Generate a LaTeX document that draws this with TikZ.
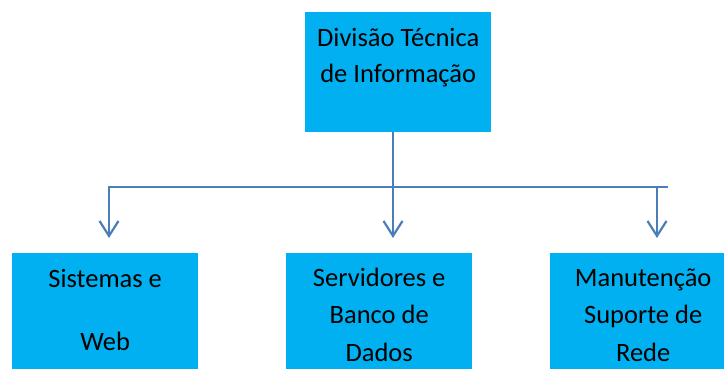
\documentclass[tikz,border=0pt]{standalone}
\usepackage{fontspec}
\setmainfont{Carlito}
\usepackage{xcolor}
\usetikzlibrary{positioning,arrows.meta,calc}
\definecolor{azulcaixa}{HTML}{00B0F0}
\definecolor{azulseta}{HTML}{4A7EBB}

\begin{document}
\begin{tikzpicture}[x=1pt, y=-1pt,
    caixa/.style={fill=azulcaixa, draw=none, inner sep=0pt, anchor=north west},
    linha/.style={draw=azulseta, line width=2.2pt},
    seta/.style={linha, -{Straight Barb[length=15pt, width=19pt, line width=2.2pt]}, shorten >=15pt}]
        % Organograma da Divisão Técnica
        \def\larg{186pt}
        \useasboundingbox (0,0) rectangle (724,369);
        \clip (0,0) rectangle (724,369);
        % Caixa do topo
        \node[caixa] (divisao) at (305,12) {\parbox[c][120pt][t]{\larg}{\centering
            \fontsize{26.5}{36}\selectfont\rule{0pt}{34pt}Divisão Técnica\\ de Informação}};
        % Caixas de baixo
        \node[caixa] (sistemas) at (12,253) {\parbox[c][130pt][t]{\larg}{\centering
            \fontsize{26.5}{37.5}\selectfont\rule{0pt}{34pt}Sistemas e\\[25.5pt] Web}};
        \node[caixa] (servidores) at (286,253) {\parbox[c][130pt][t]{\larg}{\centering
            \fontsize{26.5}{37.5}\selectfont\rule{0pt}{33pt}Servidores e\\ Banco de\\ Dados}};
        \node[caixa] (manutencao) at (550,253) {\parbox[c][130pt][t]{\larg}{\centering
            \fontsize{26.5}{37.5}\selectfont\rule{0pt}{33pt}Manutenção\\ Suporte de\\ Rede}};
        % Ligações
        \coordinate (esq) at (109,187);
        \coordinate (dir) at (668,187);
        \coordinate (meio) at (393,187);
        \coordinate (cantoDir) at (657,187);
        \draw[seta] (dir) -- (esq) -- (esq |- sistemas.north);
        \draw[seta] (divisao.south -| meio) -- (meio |- servidores.north);
        \draw[seta] (cantoDir) -- (cantoDir |- manutencao.north);
    \end{tikzpicture}
\end{document}
